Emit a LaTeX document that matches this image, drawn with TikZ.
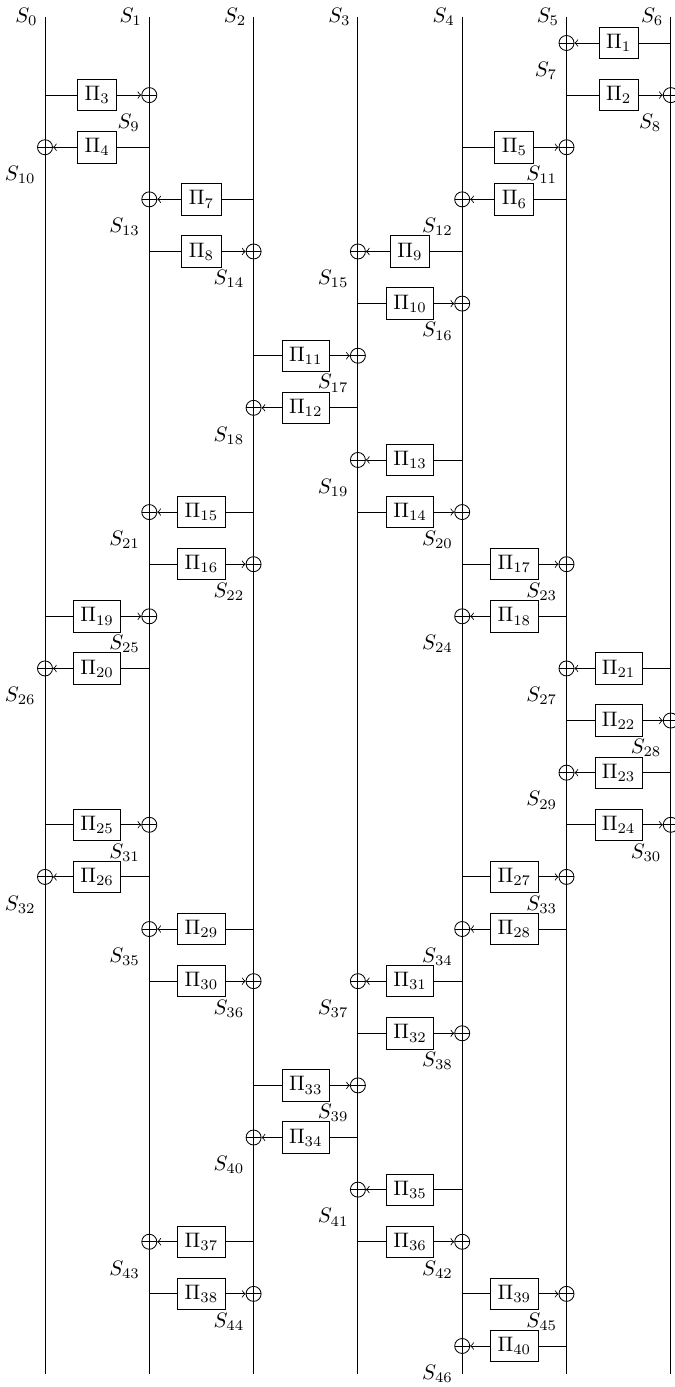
\documentclass[tikz,border=0pt]{standalone}
\usepackage{tikz}
\begin{document}
\begin{tikzpicture}[x=1.75cm, y=-0.8745cm]
            \tikzstyle{wire} = [thin]
            \tikzstyle{pibox} = [draw, rectangle, fill=white]
            \tikzstyle{adder} = [draw, circle, fill=white, minimum size=0.252cm, inner sep=0pt,
                path picture={\draw (path picture bounding box.north) -- (path picture bounding box.south)
                    (path picture bounding box.west) -- (path picture bounding box.east);}]
            \tikzstyle{sumlabel} = [xshift=0.06cm, yshift=-0.1cm]
            \useasboundingbox (-0.4314, -0.825) rectangle (6.031, 25.787);
            \foreach \i in {0,...,6} {
                \coordinate (t\i) at (\i, -0.5);
                \coordinate (b\i) at (\i, 25.54);
                \draw[wire] (t\i) -- (b\i);
                \node[left] (s\i) at (t\i) {\(S_{\i}\)};
            }
            \foreach \r/\a/\b/\k/\s in {0/6/5/1/7,
                    1/0/1/3/9, 1/5/6/2/8, 2/1/0/4/10, 2/4/5/5/11,
                    3/2/1/7/13, 3/5/4/6/12, 4/1/2/8/14, 4/4/3/9/15,
                    5/3/4/10/16, 6/2/3/11/17, 7/3/2/12/18, 8/4/3/13/19,
                    9/2/1/15/21, 9/3/4/14/20, 10/1/2/16/22, 10/4/5/17/23,
                    11/0/1/19/25, 11/5/4/18/24, 12/1/0/20/26, 12/6/5/21/27,
                    13/5/6/22/28, 14/6/5/23/29,
                    15/0/1/25/31, 15/5/6/24/30, 16/1/0/26/32, 16/4/5/27/33,
                    17/2/1/29/35, 17/5/4/28/34, 18/1/2/30/36, 18/4/3/31/37,
                    19/3/4/32/38, 20/2/3/33/39, 21/3/2/34/40, 22/4/3/35/41,
                    23/2/1/37/43, 23/3/4/36/42, 24/1/2/38/44, 24/4/5/39/45,
                    25/5/4/40/46} {
                \coordinate (src\k) at (\a, \r);
                \node[pibox] (pi\k) at ({(\a+\b)/2}, \r) {\(\Pi_{\k}\)};
                \node[adder, label={[sumlabel]below left:{\(S_{\s}\)}}] (sum\k) at (\b, \r) {};
                \draw[wire] (src\k) -- (pi\k);
                \draw[wire, ->] (pi\k) -- (sum\k);
            }
        \end{tikzpicture}
\end{document}
